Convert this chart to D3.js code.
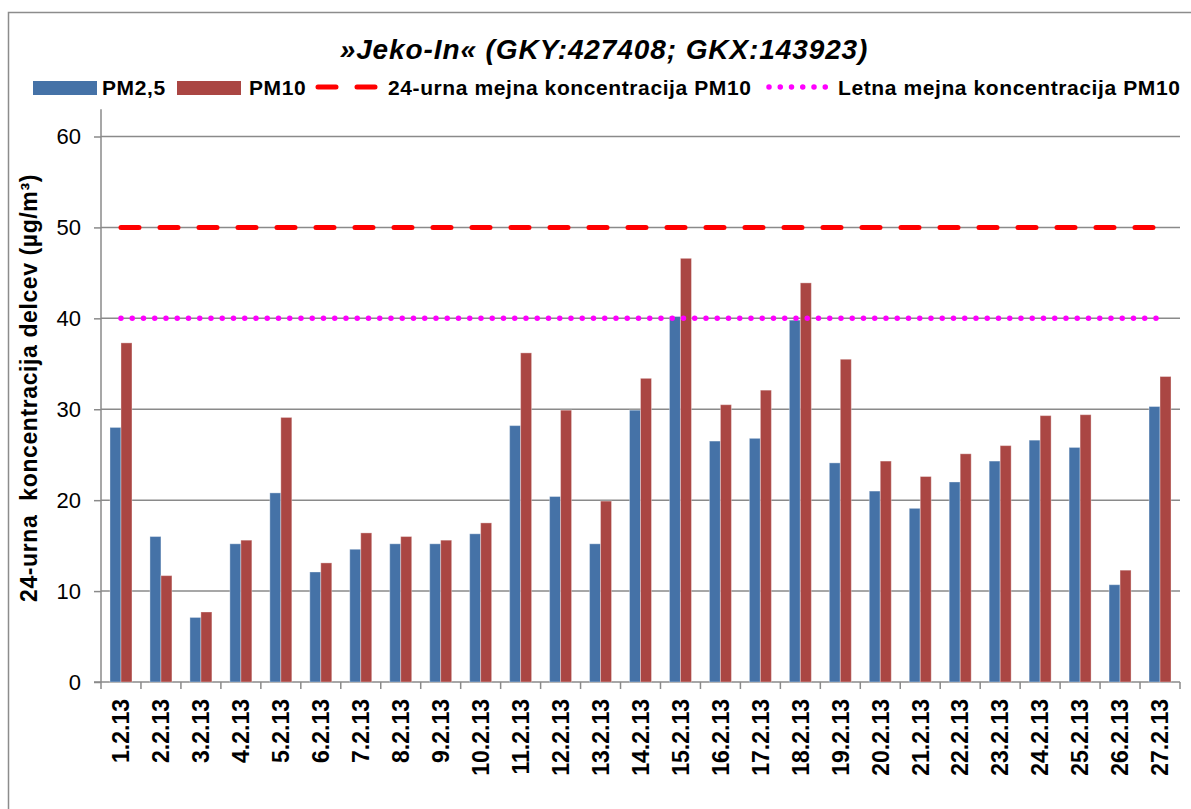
<!DOCTYPE html>
<html>
<head>
<meta charset="utf-8">
<script src="https://cdn.jsdelivr.net/npm/d3@7"></script>
<style>
  html, body { margin: 0; padding: 0; background: #fff; }
  svg { display: block; font-family: "Liberation Sans", Arial, sans-serif; }
</style>
</head>
<body>
<svg id="chart" width="1191" height="809"></svg>
<script>
// Daily PM concentrations, February 2013
const dates = ['1.2.13', '2.2.13', '3.2.13', '4.2.13', '5.2.13', '6.2.13', '7.2.13', '8.2.13', '9.2.13',
  '10.2.13', '11.2.13', '12.2.13', '13.2.13', '14.2.13', '15.2.13', '16.2.13', '17.2.13', '18.2.13',
  '19.2.13', '20.2.13', '21.2.13', '22.2.13', '23.2.13', '24.2.13', '25.2.13', '26.2.13', '27.2.13'];
const pm25 = [28.0, 16.0, 7.1, 15.2, 20.8, 12.1, 14.6, 15.2, 15.2, 16.3, 28.2, 20.4, 15.2, 29.9,
  40.2, 26.5, 26.8, 39.8, 24.1, 21.0, 19.1, 22.0, 24.3, 26.6, 25.8, 10.7, 30.3];
const pm10 = [37.3, 11.7, 7.7, 15.6, 29.1, 13.1, 16.4, 16.0, 15.6, 17.5, 36.2, 29.9, 19.9, 33.4,
  46.6, 30.5, 32.1, 43.9, 35.5, 24.3, 22.6, 25.1, 26.0, 29.3, 29.4, 12.3, 33.6];
const seriesNames = ['PM2,5', 'PM10'];
const limitNames = ['24-urna mejna koncentracija PM10', 'Letna mejna koncentracija PM10'];
const limitDaily = 50;
const limitYearly = 40;
const yTicks = [0, 10, 20, 30, 40, 50, 60];

const COLORS = { pm25: '#4572A7', pm10: '#AA4643', daily: '#FF0000', yearly: '#FF00FF', grid: '#8a8a8a' };
const FONT = '"Liberation Sans", Arial, sans-serif';

const svg = d3.select('#chart');

// Outer frame (cut off at right and bottom like the source)
svg.append('rect')
  .attr('x', 8.5).attr('y', 12.5)
  .attr('width', 1200).attr('height', 820)
  .attr('fill', '#fff')
  .attr('stroke', '#8c8c8c')
  .attr('stroke-width', 1.5);

const plot = { left: 101, right: 1180, top: 136.5, bottom: 682 };

const x0 = d3.scaleBand()
  .domain(dates)
  .range([plot.left, plot.right])
  .paddingInner(0.45)
  .paddingOuter(0.225);

const x1 = d3.scaleBand()
  .domain(['pm25', 'pm10'])
  .range([0, x0.bandwidth()]);

const y = d3.scaleLinear()
  .domain([0, 60])
  .range([plot.bottom, plot.top]);

// Gridlines
svg.append('g')
  .selectAll('line')
  .data(yTicks.filter((t) => t > 0))
  .join('line')
  .attr('x1', plot.left).attr('x2', plot.right)
  .attr('y1', (d) => y(d)).attr('y2', (d) => y(d))
  .attr('stroke', COLORS.grid)
  .attr('stroke-width', 1.5);

// Y axis
const yAxis = svg.append('g')
  .attr('transform', `translate(${plot.left},0)`)
  .call(d3.axisLeft(y).tickValues(yTicks).tickSize(7).tickPadding(13).tickFormat(d3.format('d')));
yAxis.attr('font-family', FONT).attr('font-size', 22);
yAxis.select('.domain').remove();
yAxis.selectAll('.tick line').attr('stroke', COLORS.grid).attr('stroke-width', 1.5);
yAxis.selectAll('.tick text').attr('fill', '#000');
yAxis.append('line')
  .attr('x1', 0).attr('x2', 0)
  .attr('y1', y(63)).attr('y2', y(0))
  .attr('stroke', COLORS.grid)
  .attr('stroke-width', 1.5);

// X axis: ticks at category boundaries
const bounds = dates.map((d) => x0(d) - x0.step() * x0.paddingOuter());
bounds.push(plot.right);
const xAxis = svg.append('g');
xAxis.append('line')
  .attr('x1', plot.left - 7).attr('x2', plot.right)
  .attr('y1', y(0)).attr('y2', y(0))
  .attr('stroke', COLORS.grid)
  .attr('stroke-width', 1.5);
xAxis.selectAll('line.tick')
  .data(bounds)
  .join('line')
  .attr('class', 'tick')
  .attr('x1', (d) => d).attr('x2', (d) => d)
  .attr('y1', y(0)).attr('y2', y(0) + 7)
  .attr('stroke', COLORS.grid)
  .attr('stroke-width', 1.5);
xAxis.selectAll('text')
  .data(dates)
  .join('text')
  .attr('transform', (d) => `translate(${x0(d) + x0.bandwidth() / 2},699) rotate(-90)`)
  .attr('text-anchor', 'end')
  .attr('dy', '0.36em')
  .style('font-size', '23px')
  .style('font-weight', 'bold')
  .text((d) => d);

// Bars
const rows = dates.map((d, i) => ({ date: d, pm25: pm25[i], pm10: pm10[i] }));
svg.append('g')
  .selectAll('g')
  .data(rows)
  .join('g')
  .attr('transform', (d) => `translate(${x0(d.date)},0)`)
  .selectAll('rect')
  .data((d) => ['pm25', 'pm10'].map((k) => ({ key: k, value: d[k] })))
  .join('rect')
  .attr('x', (d) => x1(d.key))
  .attr('y', (d) => y(d.value))
  .attr('width', x1.bandwidth())
  .attr('height', (d) => y(0) - y(d.value))
  .attr('fill', (d) => COLORS[d.key])
  .attr('stroke', '#fff')
  .attr('stroke-opacity', 0.35)
  .attr('stroke-width', 1);

// Limit lines, from first to last category centre
const cx = (d) => x0(d) + x0.bandwidth() / 2;
const limitLine = d3.line().x((d) => d[0]).y((d) => d[1]);
svg.append('path')
  .attr('d', limitLine([[cx(dates[0]), y(limitDaily)], [cx(dates[dates.length - 1]), y(limitDaily)]]))
  .attr('stroke', COLORS.daily)
  .attr('stroke-width', 5)
  .attr('stroke-linecap', 'round')
  .attr('stroke-dasharray', '18 21')
  .attr('fill', 'none');
svg.append('path')
  .attr('d', limitLine([[cx(dates[0]), y(limitYearly)], [cx(dates[dates.length - 1]), y(limitYearly)]]))
  .attr('stroke', COLORS.yearly)
  .attr('stroke-width', 5.5)
  .attr('stroke-linecap', 'round')
  .attr('stroke-dasharray', '0 11.25')
  .attr('fill', 'none');

// Title
svg.append('text')
  .attr('x', 604).attr('y', 59)
  .attr('text-anchor', 'middle')
  .style('font-size', '28px')
  .style('font-weight', 'bold')
  .style('font-style', 'italic')
  .style('letter-spacing', '0.9px')
  .text('\u00BBJeko-In\u00AB (GKY:427408; GKX:143923)');

// Y axis title
svg.append('text')
  .attr('transform', 'translate(37,388) rotate(-90)')
  .attr('text-anchor', 'middle')
  .style('font-size', '23px')
  .style('font-weight', 'bold')
  .style('letter-spacing', '0.6px')
  .style('white-space', 'pre')
  .text('24-urna  koncentracija delcev (\u00B5g/m\u00B3)');

// Legend
const legend = svg.append('g').style('font-size', '21px').style('font-weight', 'bold').style('letter-spacing', '0.6px');
const legendY = 88;
const swatches = [
  { x: 33, color: COLORS.pm25 },
  { x: 177, color: COLORS.pm10 }
];
legend.selectAll('rect')
  .data(swatches)
  .join('rect')
  .attr('x', (d) => d.x).attr('y', 81)
  .attr('width', 64).attr('height', 14)
  .attr('fill', (d) => d.color);
legend.append('line')
  .attr('x1', 318).attr('x2', 375)
  .attr('y1', legendY - 1).attr('y2', legendY - 1)
  .attr('stroke', COLORS.daily)
  .attr('stroke-width', 5)
  .attr('stroke-linecap', 'round')
  .attr('stroke-dasharray', '18 21');
legend.append('line')
  .attr('x1', 769).attr('x2', 826)
  .attr('y1', legendY - 1).attr('y2', legendY - 1)
  .attr('stroke', COLORS.yearly)
  .attr('stroke-width', 5.5)
  .attr('stroke-linecap', 'round')
  .attr('stroke-dasharray', '0 11.25');
const legendTexts = [
  { x: 102, label: seriesNames[0] },
  { x: 249, label: seriesNames[1] },
  { x: 388, label: limitNames[0] },
  { x: 838, label: limitNames[1] }
];
legend.selectAll('text')
  .data(legendTexts)
  .join('text')
  .attr('x', (d) => d.x).attr('y', 95)
  .text((d) => d.label);
</script>
</body>
</html>
